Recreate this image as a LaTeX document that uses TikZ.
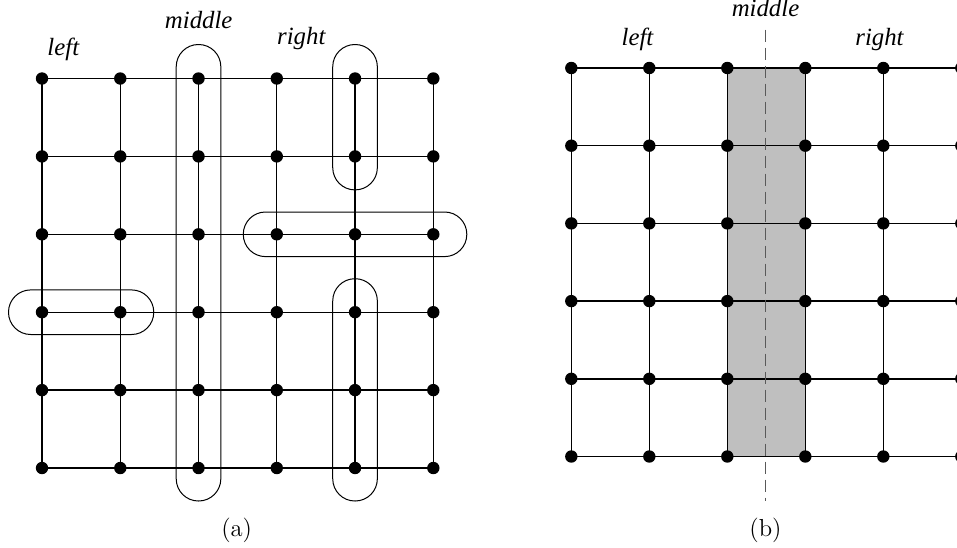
\documentclass[tikz,border=0pt]{standalone}
\usepackage{fontspec}
\newfontfamily\tms{Liberation Serif}
\usetikzlibrary{calc}
\begin{document}
\begin{tikzpicture}[x=0.5pt,y=-0.5pt,
  grid/.style={line width=0.7pt,black},
  oval/.style={line width=0.5pt,black,rounded corners=11.1pt},
  dot/.style={circle,fill=black,inner sep=0pt,minimum size=6.2pt},
  lab/.style={inner sep=0pt,anchor=base,font=\tms\itshape\fontsize{12.4}{15}\selectfont},
  captext/.style={inner sep=0pt,anchor=base,font=\fontsize{12.3}{15}\selectfont},
  axis/.style={line width=0.6pt,black!65,dash pattern=on 6pt off 3pt}]
\clip (0,0) rectangle (957,547);
% ---------- (a) ----------
\foreach \i in {0,...,5}{
  \foreach \j in {0,...,5}{
    \coordinate (a-\i-\j) at ({42+78.26*\i},{78.5+77.9*\j});
  }
}
\foreach \j in {0,...,5}{ \draw[grid] (a-0-\j) -- (a-5-\j); }
\foreach \i in {0,...,5}{ \draw[grid] (a-\i-0) -- (a-\i-5); }
% ovals
\draw[oval] ($(a-2-0)+(-22.3,-34)$) rectangle ($(a-2-5)+(22.3,33)$);
\draw[oval] ($(a-4-0)+(-22.3,-34)$) rectangle ($(a-4-1)+(22.3,33.5)$);
\draw[oval] ($(a-3-2)+(-33.5,-22.3)$) rectangle ($(a-5-2)+(33.5,22.3)$);
\draw[oval] ($(a-0-3)+(-33.5,-22.3)$) rectangle ($(a-1-3)+(33.5,22.3)$);
\draw[oval] ($(a-4-3)+(-22.3,-33.5)$) rectangle ($(a-4-5)+(22.3,33)$);
\foreach \i in {0,...,5}{
  \foreach \j in {0,...,5}{
    \node[dot] (da-\i-\j) at (a-\i-\j) {};
  }
}
\node[lab] (la) at (63.3,55) {left};
\node[lab] (ma) at (198.7,28.3) {middle};
\node[lab] (ra) at (301.3,44.3) {right};
\node[captext] (capa) at (236.7,536.5) {(a)};
% ---------- (b) ----------
\foreach \i in {0,...,5}{
  \foreach \j in {0,...,5}{
    \coordinate (b-\i-\j) at ({571.3+78*\i},{68+77.7*\j});
  }
}
\fill[black!25] (b-2-0) rectangle (b-3-5);
\foreach \j in {0,...,5}{ \draw[grid] (b-0-\j) -- (b-5-\j); }
\foreach \i in {0,...,5}{ \draw[grid] (b-\i-0) -- (b-\i-5); }
\coordinate (axtop) at (765.7,29.5);
\coordinate (axbot) at (765.7,500.7);
\draw[axis] (axtop) -- (axbot);
\foreach \i in {0,...,5}{
  \foreach \j in {0,...,5}{
    \node[dot] (db-\i-\j) at (b-\i-\j) {};
  }
}
\node[lab] (lb) at (637.5,45.7) {left};
\node[lab] (mb) at (765.5,16.7) {middle};
\node[lab] (rb) at (879.5,45.7) {right};
\node[captext] (capb) at (765.5,536.5) {(b)};
\end{tikzpicture}
\end{document}
